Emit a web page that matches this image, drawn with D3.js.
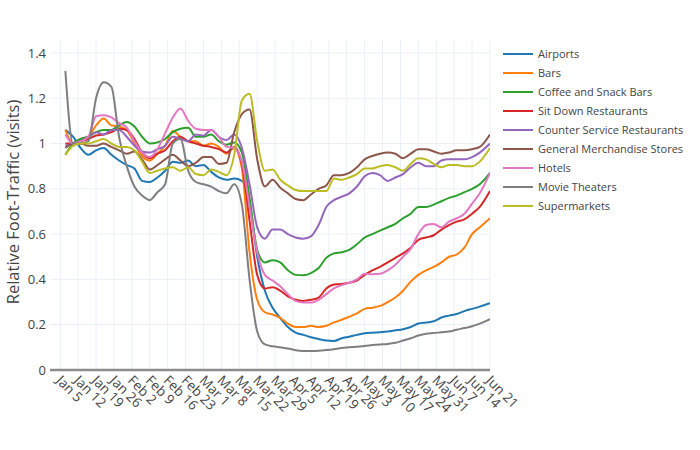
<!DOCTYPE html>
<html>
<head>
<meta charset="utf-8">
<script src="https://cdn.jsdelivr.net/npm/d3@7"></script>
<style>
  html, body { margin: 0; padding: 0; background: #fff; }
  svg { display: block; font-family: "Open Sans", "DejaVu Sans", Arial, sans-serif; }
</style>
</head>
<body>
<svg id="chart" width="700" height="450"></svg>
<script>
const dates = ["2020-01-07","2020-01-10","2020-01-13","2020-01-16","2020-01-19","2020-01-22","2020-01-25","2020-01-28","2020-01-31","2020-02-03","2020-02-06","2020-02-09","2020-02-12","2020-02-15","2020-02-18","2020-02-21","2020-02-24","2020-02-27","2020-03-01","2020-03-04","2020-03-07","2020-03-10","2020-03-13","2020-03-16","2020-03-19","2020-03-22","2020-03-25","2020-03-28","2020-03-31","2020-04-03","2020-04-06","2020-04-09","2020-04-12","2020-04-15","2020-04-18","2020-04-21","2020-04-24","2020-04-27","2020-04-30","2020-05-03","2020-05-06","2020-05-09","2020-05-12","2020-05-15","2020-05-18","2020-05-21","2020-05-24","2020-05-27","2020-05-30","2020-06-02","2020-06-05","2020-06-08","2020-06-11","2020-06-14","2020-06-17","2020-06-21"];

const airports = [1.06,1.03,0.98,0.95,0.97,0.98,0.95,0.925,0.905,0.89,0.835,0.83,0.85,0.88,0.92,0.915,0.925,0.90,0.905,0.875,0.85,0.84,0.845,0.835,0.74,0.50,0.35,0.275,0.23,0.19,0.165,0.155,0.145,0.137,0.13,0.128,0.14,0.147,0.155,0.162,0.165,0.167,0.17,0.175,0.18,0.19,0.205,0.21,0.215,0.232,0.24,0.247,0.26,0.27,0.28,0.295];
const bars = [1.06,1.0,1.02,1.03,1.08,1.11,1.08,1.075,1.06,1.0,0.945,0.925,0.955,0.99,1.055,1.03,1.01,1.01,0.99,1.0,0.985,0.955,0.98,0.89,0.52,0.31,0.255,0.245,0.23,0.205,0.19,0.19,0.195,0.19,0.195,0.21,0.222,0.235,0.25,0.27,0.275,0.283,0.30,0.32,0.35,0.39,0.42,0.44,0.455,0.475,0.50,0.51,0.54,0.60,0.63,0.67];
const coffeeSnack = [0.95,1.0,1.02,1.03,1.05,1.06,1.06,1.08,1.095,1.075,1.03,1.0,1.005,1.02,1.05,1.065,1.07,1.03,1.03,1.04,1.01,0.995,1.005,0.96,0.76,0.53,0.475,0.485,0.475,0.44,0.42,0.418,0.428,0.45,0.495,0.515,0.52,0.53,0.555,0.585,0.60,0.615,0.63,0.645,0.67,0.69,0.72,0.72,0.73,0.745,0.76,0.77,0.785,0.80,0.82,0.87];
const sitDown = [1.0,1.0,1.01,1.02,1.035,1.04,1.05,1.065,1.06,1.02,0.96,0.935,0.955,0.97,1.01,1.03,1.01,1.0,0.99,0.985,0.975,0.96,0.985,0.91,0.66,0.42,0.36,0.365,0.35,0.325,0.31,0.305,0.31,0.32,0.36,0.378,0.38,0.385,0.395,0.42,0.44,0.455,0.475,0.495,0.515,0.54,0.575,0.585,0.595,0.62,0.64,0.655,0.665,0.69,0.72,0.79];
const counterService = [0.99,1.0,1.01,1.03,1.05,1.04,1.06,1.06,1.03,0.99,0.965,0.96,0.975,0.99,1.03,1.02,1.01,1.04,1.035,1.06,1.03,1.015,1.04,0.98,0.82,0.63,0.58,0.62,0.62,0.60,0.585,0.58,0.59,0.64,0.72,0.75,0.765,0.78,0.81,0.855,0.87,0.86,0.835,0.85,0.865,0.895,0.915,0.90,0.90,0.925,0.93,0.93,0.93,0.94,0.96,1.0];
const generalMerch = [0.98,1.0,1.0,0.99,0.99,1.0,0.985,0.97,0.955,0.965,0.93,0.885,0.905,0.93,0.95,0.925,0.90,0.915,0.94,0.94,0.91,0.915,1.05,1.13,1.15,0.93,0.81,0.84,0.805,0.78,0.755,0.75,0.775,0.80,0.815,0.86,0.86,0.87,0.895,0.93,0.945,0.955,0.96,0.955,0.935,0.955,0.975,0.975,0.965,0.955,0.96,0.97,0.97,0.975,0.985,1.04];
const hotels = [1.04,1.0,1.01,1.03,1.12,1.125,1.115,1.09,1.07,1.01,0.96,0.94,0.975,1.045,1.115,1.155,1.10,1.065,1.06,1.06,1.03,0.985,0.98,0.92,0.72,0.52,0.42,0.395,0.37,0.335,0.305,0.298,0.298,0.31,0.335,0.36,0.375,0.385,0.40,0.425,0.423,0.425,0.44,0.465,0.50,0.535,0.60,0.64,0.645,0.63,0.655,0.67,0.69,0.735,0.78,0.87];
const movieTheaters = [1.32,1.0,1.0,1.01,1.20,1.27,1.25,1.03,0.90,0.81,0.77,0.75,0.785,0.82,1.0,1.02,0.88,0.83,0.82,0.81,0.79,0.78,0.82,0.73,0.40,0.17,0.113,0.105,0.10,0.095,0.087,0.084,0.084,0.085,0.088,0.092,0.097,0.10,0.103,0.106,0.11,0.113,0.115,0.12,0.13,0.14,0.152,0.16,0.163,0.167,0.17,0.178,0.185,0.193,0.205,0.225];
const supermarkets = [0.95,0.99,1.0,1.0,1.01,1.02,1.0,0.985,0.985,0.97,0.92,0.87,0.88,0.89,0.895,0.88,0.895,0.865,0.86,0.885,0.875,0.86,0.95,1.19,1.22,1.01,0.88,0.885,0.84,0.815,0.795,0.79,0.79,0.79,0.79,0.845,0.84,0.85,0.865,0.89,0.89,0.90,0.905,0.895,0.88,0.91,0.935,0.93,0.91,0.895,0.905,0.905,0.90,0.90,0.92,0.98];

const seriesNames = ["Airports","Bars","Coffee and Snack Bars","Sit Down Restaurants","Counter Service Restaurants","General Merchandise Stores","Hotels","Movie Theaters","Supermarkets"];
const seriesValues = [airports, bars, coffeeSnack, sitDown, counterService, generalMerch, hotels, movieTheaters, supermarkets];
const colors = ["#1f77b4","#ff7f0e","#2ca02c","#d62728","#9467bd","#8c564b","#e377c2","#7f7f7f","#bcbd22"];
const yTicks = [0, 0.2, 0.4, 0.6, 0.8, 1, 1.2, 1.4];
const yTitle = "Relative Foot-Traffic (visits)";

const parse = d3.utcParse("%Y-%m-%d");
const dateObjs = dates.map(parse);

const svg = d3.select("#chart");
const L = 50, R = 490, T = 40, B = 370;

const x = d3.scaleUtc().domain([parse("2020-01-01"), parse("2020-06-21")]).range([L, R]);
const y = d3.scaleLinear().domain([0, 1.457]).range([B, T]);

const xTickVals = d3.utcSunday.range(parse("2020-01-05"), parse("2020-06-22"));
const fmt = d3.utcFormat("%b %-d");

// gridlines
const grid = svg.append("g");
grid.selectAll("line.v").data(xTickVals).join("line")
  .attr("x1", d => x(d)).attr("x2", d => x(d))
  .attr("y1", T).attr("y2", B)
  .attr("stroke", "#ebf0f8").attr("stroke-width", 1);
grid.selectAll("line.h").data(yTicks.filter(v => v > 0)).join("line")
  .attr("x1", L).attr("x2", R)
  .attr("y1", d => y(d)).attr("y2", d => y(d))
  .attr("stroke", "#ebf0f8").attr("stroke-width", 1);

// clip
svg.append("clipPath").attr("id", "clip").append("rect")
  .attr("x", L).attr("y", T).attr("width", R - L).attr("height", B - T);

const line = d3.line()
  .x((d, i) => x(dateObjs[i]))
  .y(d => y(d))
  .curve(d3.curveMonotoneX);

const lines = svg.append("g").attr("clip-path", "url(#clip)");
seriesValues.forEach((vals, k) => {
  lines.append("path")
    .attr("d", line(vals))
    .attr("fill", "none")
    .attr("stroke", colors[k])
    .attr("stroke-width", 2)
    .attr("stroke-linejoin", "round");
});

// zero / axis line
svg.append("line")
  .attr("x1", L).attr("x2", R).attr("y1", y(0)).attr("y2", y(0))
  .attr("stroke", "#8c8c8c").attr("stroke-width", 2.5);

// y axis
const yAxis = svg.append("g").attr("transform", `translate(${L},0)`)
  .call(d3.axisLeft(y).tickValues(yTicks).tickSize(0).tickPadding(4).tickFormat(d3.format("~r")));
yAxis.select(".domain").remove();
yAxis.selectAll("text").attr("fill", "#444").style("font-size", "13px")
  .style("font-family", "'Open Sans', sans-serif");

// x axis
const xAxis = svg.append("g").attr("transform", `translate(0,${B})`)
  .call(d3.axisBottom(x).tickValues(xTickVals).tickSize(0).tickFormat(fmt));
xAxis.select(".domain").remove();
xAxis.selectAll("text")
  .attr("fill", "#444")
  .style("font-size", "13.5px")
  .style("font-family", "'Open Sans', sans-serif")
  .attr("text-anchor", "start")
  .attr("y", 0).attr("dy", "0.35em")
  .attr("transform", "translate(-2,8) rotate(45)");

// y title
svg.append("text")
  .attr("transform", `translate(13,${(T + B) / 2 - 3}) rotate(-90)`)
  .attr("text-anchor", "middle")
  .attr("dy", "0.35em")
  .attr("fill", "#444")
  .style("font-size", "16.5px")
  .text(yTitle);

// legend
const leg = svg.append("g");
seriesNames.forEach((name, k) => {
  const yy = 54 + k * 19;
  leg.append("line").attr("x1", 503).attr("x2", 533).attr("y1", yy).attr("y2", yy)
    .attr("stroke", colors[k]).attr("stroke-width", 2);
  leg.append("text").attr("x", 538).attr("y", yy).attr("dy", "0.35em")
    .attr("fill", "#444").style("font-size", "11px").text(name);
});
</script>
</body>
</html>
